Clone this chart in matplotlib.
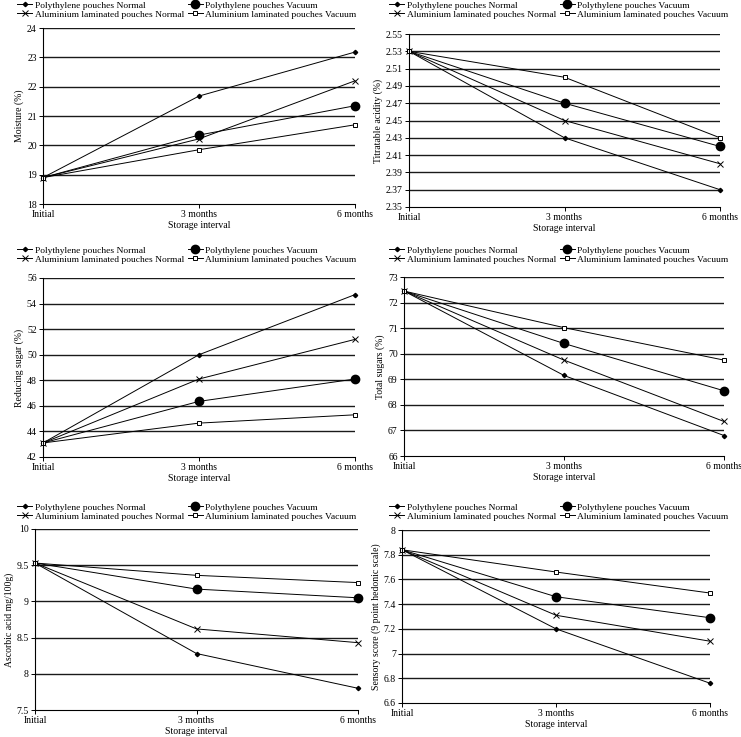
import matplotlib
matplotlib.use("Agg")
import matplotlib.pyplot as plt
import numpy as np

plt.rcParams["font.family"] = ["Liberation Serif", "DejaVu Serif"]
plt.rcParams["font.size"] = 7

# Daten
intervals = ["Initial", "3 months", "6 months"]
series_names = ["Polythylene pouches Normal", "Polythylene pouches Vacuum",
                "Aluminium laminated pouches Normal", "Aluminium laminated pouches Vacuum"]

moisture_pn = [18.9, 21.68, 23.18]
moisture_pv = [18.9, 20.35, 21.35]
moisture_an = [18.9, 20.22, 22.2]
moisture_av = [18.9, 19.85, 20.7]

acidity_pn = [2.53, 2.43, 2.37]
acidity_pv = [2.53, 2.47, 2.42]
acidity_an = [2.53, 2.45, 2.40]
acidity_av = [2.53, 2.50, 2.43]

redsugar_pn = [43.1, 50.0, 54.7]
redsugar_pv = [43.1, 46.35, 48.1]
redsugar_an = [43.1, 48.1, 51.2]
redsugar_av = [43.1, 44.65, 45.3]

totsugar_pn = [72.45, 69.15, 66.8]
totsugar_pv = [72.45, 70.4, 68.55]
totsugar_an = [72.45, 69.75, 67.35]
totsugar_av = [72.45, 71.02, 69.75]

ascorbic_pn = [9.53, 8.28, 7.8]
ascorbic_pv = [9.53, 9.17, 9.05]
ascorbic_an = [9.53, 8.62, 8.43]
ascorbic_av = [9.53, 9.36, 9.26]

sensory_pn = [7.84, 7.2, 6.76]
sensory_pv = [7.84, 7.46, 7.29]
sensory_an = [7.84, 7.31, 7.1]
sensory_av = [7.84, 7.66, 7.49]

W, H = 741, 737
fig = plt.figure(figsize=(W / 100, H / 100), dpi=100)

# (left, top, right, bottom) in pixel, legend (x, y), ylabel, yticks, tick format, data
panels = [
    ((43, 28, 355, 204), (17, 1), "Moisture (%)", np.arange(18, 24.1, 1), "{:.0f}",
     (moisture_pn, moisture_pv, moisture_an, moisture_av)),
    ((409, 34, 720, 207), (389, 1), "Titratable acidity (%)", np.arange(2.35, 2.551, 0.02), "{:.2f}",
     (acidity_pn, acidity_pv, acidity_an, acidity_av)),
    ((43, 278, 355, 457), (17, 246), "Reducing sugar (%)", np.arange(42, 56.1, 2), "{:.0f}",
     (redsugar_pn, redsugar_pv, redsugar_an, redsugar_av)),
    ((404, 277, 724, 456), (389, 246), "Total sugars (%)", np.arange(66, 73.1, 1), "{:.0f}",
     (totsugar_pn, totsugar_pv, totsugar_an, totsugar_av)),
    ((35, 529, 358, 710), (17, 503), "Ascorbic acid mg/100g)", np.arange(7.5, 10.01, 0.5), "{:g}",
     (ascorbic_pn, ascorbic_pv, ascorbic_an, ascorbic_av)),
    ((402, 530, 710, 703), (389, 503), "Sensory score (9 point hedonic scale)", np.arange(6.6, 8.01, 0.2), "{:g}",
     (sensory_pn, sensory_pv, sensory_an, sensory_av)),
]

styles = [
    dict(marker="D", markersize=2.2),
    dict(marker="o", markersize=6, markevery=[1, 2]),
    dict(marker="x", markersize=4, markeredgewidth=0.7),
    dict(marker="s", markersize=3, markerfacecolor="white", markeredgewidth=0.7),
]

x = np.arange(len(intervals))
for (l, t, r, b), (lx, ly), ylabel, yticks, fmt, data in panels:
    ax = fig.add_axes([l / W, 1 - b / H, (r - l) / W, (b - t) / H])
    lines = []
    for vals, name, st in zip(data, series_names, styles):
        ln, = ax.plot(x, vals, color="black", linewidth=0.7, label=name, clip_on=False, **st)
        lines.append(ln)
    ax.set_xlim(0, 2)
    ax.set_ylim(yticks[0], yticks[-1])
    ax.set_yticks(yticks)
    ax.set_yticklabels([fmt.format(v) for v in yticks])
    ax.set_xticks(x)
    ax.set_xticklabels(intervals)
    for v in yticks[1:]:
        ax.axhline(v, color="0.1", linewidth=1.0, zorder=0)
    ax.spines["top"].set_visible(False)
    ax.spines["right"].set_visible(False)
    ax.spines["left"].set_linewidth(0.8)
    ax.spines["bottom"].set_linewidth(0.8)
    ax.tick_params(length=3, width=0.7, pad=1.5, labelsize=7)
    ax.set_xlabel("Storage interval", labelpad=1)
    ax.set_ylabel(ylabel, labelpad=2)
    # Reihenfolge so, dass Zeile 1: PN, PV und Zeile 2: AN, AV
    order = [0, 2, 1, 3]
    ax.legend([lines[i] for i in order], [series_names[i] for i in order],
              loc="upper left", bbox_to_anchor=(lx / W, 1 - ly / H),
              bbox_transform=fig.transFigure, ncol=2, frameon=False,
              borderpad=0, borderaxespad=0, handlelength=1.6, handletextpad=0.3,
              columnspacing=0.35, labelspacing=0.05, fontsize=6.8)

fig.savefig("out.png", dpi=100)
